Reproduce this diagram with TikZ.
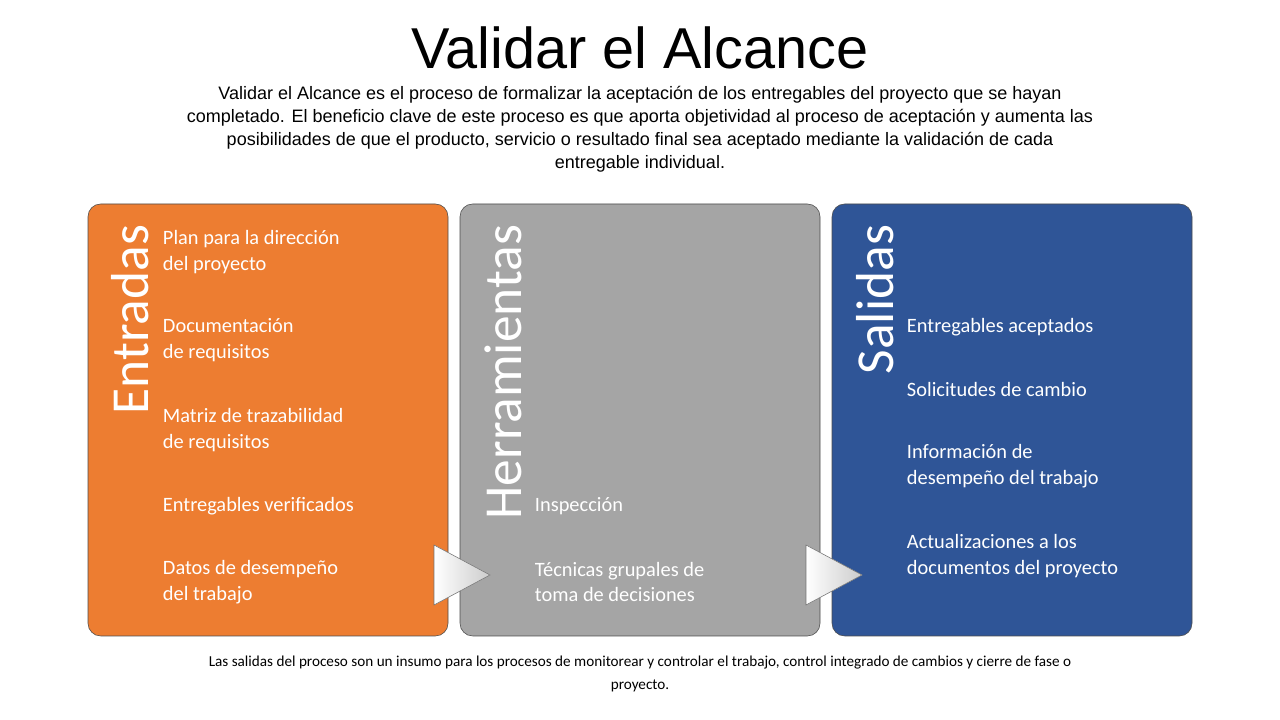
\documentclass[tikz,border=0pt]{standalone}
\usepackage{fontspec}
\setmainfont{Liberation Sans}
\newfontfamily\calib{Carlito}
\definecolor{naranja}{HTML}{ED7D31}
\definecolor{gris}{HTML}{A5A5A5}
\definecolor{azul}{HTML}{2F5597}
\begin{document}
\begin{tikzpicture}[x=0.025cm,y=0.025cm,
  fase/.style={draw=black!70,thin,rounded corners=9pt},
  titulo fase/.style={rotate=90,anchor=base east,text=white,font=\calib\fontsize{38}{40}\selectfont},
  item/.style={anchor=west,align=left,text=white,font=\calib\fontsize{14.5}{18.4}\selectfont},
  flecha/.style={draw=black!55,thin,fill=white,shade,left color=white,right color=black!20}]
  \useasboundingbox (0,0) rectangle (1280,720);

  \node at (640,672) {\fontsize{41}{44}\selectfont Validar el Alcance};
  \node[align=center,font=\fontsize{12.8}{16.3}\selectfont] at (640,591) {Validar el Alcance es el proceso de formalizar la aceptación de los entregables del proyecto que se hayan\\
  completado. El beneficio clave de este proceso es que aporta objetividad al proceso de aceptación y aumenta las\\
  posibilidades de que el producto, servicio o resultado final sea aceptado mediante la validación de cada\\
  entregable individual.};

  \draw[fase,fill=naranja] (88,84) rectangle (448,516);
  \draw[fase,fill=gris] (460,84) rectangle (820,516);
  \draw[fase,fill=azul] (832,84) rectangle (1192,516);

  \node[titulo fase] (entradas) at (148,500) {Entradas};
  \node[titulo fase] (herramientas) at (521,500) {Herramientas};
  \node[titulo fase] (salidas) at (893,500) {Salidas};

  % entradas
  \node[item] (e1) at (158,468) {Plan para la dirección\\del proyecto};
  \node[item] (e2) at (158,379.5) {Documentación\\de requisitos};
  \node[item] (e3) at (158,290) {Matriz de trazabilidad\\de requisitos};
  \node[item] (e4) at (158,214) {Entregables verificados};
  \node[item] (e5) at (158,138) {Datos de desempeño\\del trabajo};
  % herramientas
  \node[item] (h1) at (530,214) {Inspección};
  \node[item] (h2) at (530,138) {Técnicas grupales de\\toma de decisiones};
  % salidas
  \node[item] (s1) at (902,393) {Entregables aceptados};
  \node[item] (s2) at (902,330) {Solicitudes de cambio};
  \node[item] (s3) at (902,254) {Información de\\desempeño del trabajo};
  \node[item] (s4) at (902,164) {Actualizaciones a los\\documentos del proyecto};

  \coordinate (a1) at (434,175); \coordinate (a2) at (490,145); \coordinate (a3) at (434,115);
  \coordinate (b1) at (806,175); \coordinate (b2) at (862,145); \coordinate (b3) at (806,115);
  \draw[flecha] (a1) -- (a2) -- (a3) -- cycle;
  \draw[flecha] (b1) -- (b2) -- (b3) -- cycle;

  \node[align=center,font=\calib\fontsize{10.8}{16.3}\selectfont] at (640,46) {Las salidas del proceso son un insumo para los procesos de monitorear y controlar el trabajo, control integrado de cambios y cierre de fase o\\proyecto.};
\end{tikzpicture}
\end{document}
